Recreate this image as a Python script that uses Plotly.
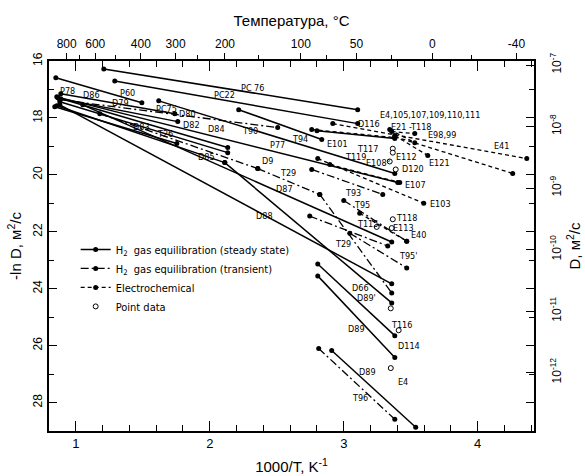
import plotly.graph_objects as go

# ---------------- data (x = 1000/T, K^-1 ; y = -ln D) ----------------
# H2 gas equilibration (steady state) segments
steady_x1 = [1.209, 1.291, 0.851, 1.619, 0.858, 0.866, 0.881, 0.888, 0.888, 0.843, 0.858, 1.052, 0.881, 2.112, 2.806, 2.806, 2.910, 2.216, 2.800]
steady_y1 = [16.28, 16.70, 16.59, 17.40, 17.26, 17.29, 17.43, 17.33, 17.15, 17.61, 17.57, 17.54, 17.54, 19.57, 23.13, 23.55, 26.17, 17.71, 18.45]
steady_x2 = [3.104, 3.104, 1.493, 3.381, 3.403, 2.134, 2.134, 1.761, 1.739, 1.754, 2.112, 3.358, 3.358, 3.358, 3.381, 3.381, 3.537, 2.836, 3.381]
steady_y2 = [17.71, 18.20, 17.47, 19.95, 20.27, 19.04, 19.22, 18.13, 17.85, 18.90, 19.57, 22.36, 23.83, 24.50, 25.65, 26.42, 28.87, 18.76, 18.72]

# H2 gas equilibration (transient) segments
trans_x1 = [0.881, 1.179, 2.358, 2.821, 2.761, 3.000, 2.746, 3.045, 2.813]
trans_y1 = [17.36, 17.85, 19.78, 20.69, 19.81, 20.90, 21.45, 22.05, 26.10]
trans_x2 = [2.507, 2.358, 2.821, 3.358, 3.291, 3.470, 3.328, 3.470, 3.381]
trans_y2 = [18.34, 19.78, 20.69, 24.15, 20.69, 22.33, 22.50, 23.27, 28.59]

# Electrochemical segments
elec_x1 = [2.918, 3.381, 2.761, 3.381, 3.343, 3.358, 2.806, 2.896, 3.119]
elec_y1 = [18.20, 18.66, 18.41, 18.62, 18.41, 18.48, 19.43, 19.64, 21.35]
elec_x2 = [4.366, 4.261, 3.381, 3.627, 3.530, 3.530, 3.597, 3.418, 3.470]
elec_y2 = [19.43, 19.95, 18.69, 19.32, 18.87, 18.55, 21.00, 20.27, 22.33]

# Point data
point_x = [3.366, 3.358, 3.351, 3.410, 3.351, 3.246, 3.343, 3.388, 3.366, 3.366]
point_y = [21.56, 21.87, 24.69, 25.46, 26.79, 21.83, 19.53, 19.81, 19.08, 19.22]

# Curve labels
label_text = ["PC 76", "PC22", "P60", "P78", "D86", "D79", "PC75", "D80", "D82", "D83", "T26",
              "D84", "D85", "T90", "P77", "D9", "T29", "D87", "D88", "T94", "E101", "D116",
              "E4,105,107,109,110,111", "E21 -T118", "E98,99", "T117", "T119", "E108°", "E112",
              "E121", "D120", "E107", "E103", "E41", "T93", "T95", "T118", "E113", "E40", "T115",
              "T29", "T95'", "D66", "D89'", "T116", "D89", "D114", "D89", "E4", "T96"]
label_x = [2.321, 2.112, 1.388, 0.940, 1.119, 1.336, 1.679, 1.836, 1.866, 1.493, 1.664,
           2.052, 1.978, 2.299, 2.507, 2.433, 2.582, 2.560, 2.410, 2.672, 2.955, 3.190,
           3.640, 3.500, 3.731, 3.179, 3.090, 3.261, 3.470,
           3.716, 3.515, 3.537, 3.724, 4.179, 3.067, 3.134, 3.470, 3.445, 3.560, 3.179,
           2.993, 3.478, 3.127, 3.172, 3.433, 3.097, 3.485, 3.179, 3.440, 3.119]
label_y = [16.94, 17.19, 17.12, 17.05, 17.19, 17.47, 17.68, 17.85, 18.24, 18.31, 18.55,
           18.38, 19.36, 18.45, 18.94, 19.50, 19.92, 20.51, 21.45, 18.73, 18.90, 18.22,
           17.88, 18.31, 18.59, 19.08, 19.39, 19.60, 19.39,
           19.60, 19.81, 20.34, 21.03, 18.97, 20.65, 21.07, 21.52, 21.86, 22.12, 21.73,
           22.43, 22.85, 23.97, 24.32, 25.27, 25.41, 26.03, 26.94, 27.29, 27.85]

# Axes
temp_major = [800, 600, 400, 300, 200, 100, 50, 0, -40]
temp_minor = [700, 500, 250, 150, 75, 25, -20]
lnD_ticks = [16, 18, 20, 22, 24, 26, 28]
D_ticks = [1e-7, 1e-8, 1e-9, 1e-10, 1e-11, 1e-12]
D_ticktext = ["10<sup>-7</sup>", "10<sup>-8</sup>", "10<sup>-9</sup>", "10<sup>-10</sup>",
              "10<sup>-11</sup>", "10<sup>-12</sup>"]


def joined(x1, y1, x2, y2):
    xs, ys = [], []
    for a, b, c, d in zip(x1, y1, x2, y2):
        xs += [a, c, None]
        ys += [b, d, None]
    return xs, ys


FONT = "Liberation Sans, Arial, sans-serif"
LBL_FONT = "DejaVu Sans Condensed, Liberation Sans Narrow, Liberation Sans, sans-serif"

fig = go.Figure()

sx, sy = joined(steady_x1, steady_y1, steady_x2, steady_y2)
fig.add_trace(go.Scatter(x=sx, y=sy, mode="lines+markers",
                         name="H<sub>2</sub>  gas equilibration (steady state)",
                         line=dict(color="black", width=1.5),
                         marker=dict(color="black", size=5)))
tx, ty = joined(trans_x1, trans_y1, trans_x2, trans_y2)
fig.add_trace(go.Scatter(x=tx, y=ty, mode="lines+markers",
                         name="H<sub>2</sub>  gas equilibration (transient)",
                         line=dict(color="black", width=1.3, dash="8px,3px,2px,3px"),
                         marker=dict(color="black", size=5)))
ex, ey = joined(elec_x1, elec_y1, elec_x2, elec_y2)
fig.add_trace(go.Scatter(x=ex, y=ey, mode="lines+markers",
                         name="Electrochemical",
                         line=dict(color="black", width=1.3, dash="4px,3px"),
                         marker=dict(color="black", size=5)))
fig.add_trace(go.Scatter(x=point_x, y=point_y, mode="markers", name="Point data",
                         marker=dict(color="white", size=5,
                                     line=dict(color="black", width=1))))
# helper trace to activate secondary axes
fig.add_trace(go.Scatter(x=[None], y=[None], xaxis="x2", yaxis="y2",
                         showlegend=False, hoverinfo="skip"))

for t, x, y in zip(label_text, label_x, label_y):
    fig.add_annotation(x=x, y=y, text=t, showarrow=False,
                       font=dict(family=LBL_FONT, size=9, color="black"))

xr = [0.8, 4.42]
fig.update_layout(
    width=585, height=476,
    margin=dict(l=49, r=51, t=61, b=45, autoexpand=False),
    paper_bgcolor="white", plot_bgcolor="white",
    font=dict(family=FONT, color="black", size=12),
    showlegend=True,
    legend=dict(x=0.055, y=0.53, xanchor="left", yanchor="top",
                bgcolor="rgba(0,0,0,0)", font=dict(family=LBL_FONT, size=11),
                tracegroupgap=0, itemwidth=30),
    xaxis=dict(range=xr, tickvals=[1, 2, 3, 4], ticks="inside", ticklen=10,
               tickwidth=1.3, tickcolor="black", automargin=False,
               minor=dict(dtick=0.2, tick0=0, ticks="inside", ticklen=6, tickcolor="black"),
               showline=True, linecolor="black", linewidth=1.5, mirror="ticks",
               showgrid=False, zeroline=False, tickfont=dict(size=13),
               title=dict(text="1000/T, K<sup>-1</sup>", font=dict(size=15), standoff=11)),
    xaxis2=dict(range=xr, overlaying="x", side="top", anchor="y", automargin=False,
                tickvals=[1000 / (t + 273.15) for t in temp_major],
                ticktext=[str(t) for t in temp_major],
                ticks="outside", ticklen=7, tickcolor="black",
                minor=dict(tickvals=[1000 / (t + 273.15) for t in temp_minor],
                           ticks="outside", ticklen=5, tickcolor="black"),
                showline=False, showgrid=False, zeroline=False,
                tickfont=dict(size=12),
                title=dict(text="Температура, °C", font=dict(size=15), standoff=6)),
    yaxis=dict(range=[29, 16], tickvals=lnD_ticks, ticks="inside", ticklen=8,
               tickcolor="black", automargin=False,
               minor=dict(dtick=1, tick0=0, ticks="inside", ticklen=5, tickcolor="black"),
               tickangle=-90, showline=True, linecolor="black", linewidth=1.5,
               mirror="ticks", showgrid=False, zeroline=False, tickfont=dict(size=12),
               title=dict(text="-ln D, м<sup>2</sup>/c", font=dict(size=15), standoff=6)),
    yaxis2=dict(type="log", range=[-12.951, -6.935], overlaying="y", side="right",
                anchor="x", tickvals=D_ticks, ticktext=D_ticktext, automargin=False,
                ticks="inside", ticklen=8, tickcolor="black", tickangle=-90,
                ticklabelstandoff=14,
                showline=False, showgrid=False, zeroline=False, tickfont=dict(size=12),
                title=dict(text="D, м<sup>2</sup>/c", font=dict(size=15), standoff=2)),
)

fig.write_html("out.html")
